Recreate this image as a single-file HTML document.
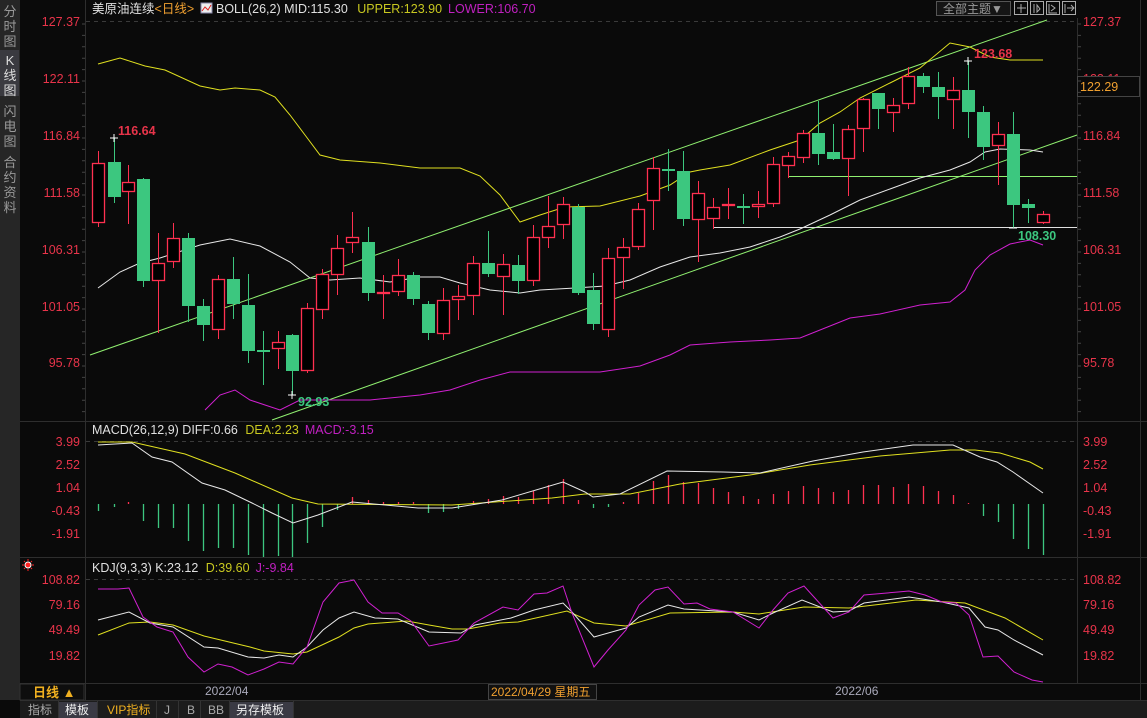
<!DOCTYPE html>
<html><head><meta charset="utf-8"><style>
html,body{margin:0;padding:0;background:#0a0a0a;width:1147px;height:718px;overflow:hidden}
svg{display:block}
text{font-family:"Liberation Sans","Noto Sans CJK SC",sans-serif}
</style></head><body>
<svg id="s" width="1147" height="718" xmlns="http://www.w3.org/2000/svg">
<rect width="1147" height="718" fill="#0a0a0a"/>
<rect x="0" y="0" width="20" height="700" fill="#262626"/>
<rect x="0" y="50" width="19" height="46" fill="#3a3a40"/>
<g font-size="13" fill="#9a9a9a" text-anchor="middle">
<text x="10" y="16">分</text><text x="10" y="31">时</text><text x="10" y="46">图</text>
<text x="10" y="65" fill="#ddd">K</text><text x="10" y="80" fill="#ddd">线</text><text x="10" y="95" fill="#ddd">图</text>
<text x="10" y="116">闪</text><text x="10" y="131">电</text><text x="10" y="146">图</text>
<text x="10" y="167">合</text><text x="10" y="182">约</text><text x="10" y="197">资</text><text x="10" y="212">料</text>
</g>
<g stroke="#2e2e2e" stroke-width="1">
<line x1="85.5" y1="0" x2="85.5" y2="700"/>
<line x1="1077.5" y1="18" x2="1077.5" y2="683"/>
<line x1="20" y1="421.5" x2="1147" y2="421.5"/>
<line x1="20" y1="557.5" x2="1147" y2="557.5"/>
<line x1="20" y1="683.5" x2="1147" y2="683.5"/>
<line x1="20" y1="700.5" x2="1147" y2="700.5"/>
<line x1="1140.5" y1="0" x2="1140.5" y2="700"/>
</g>
<g stroke="#3a3a3a" stroke-dasharray="4,4">
<line x1="86" y1="21.5" x2="1077" y2="21.5"/>
<line x1="86" y1="441.5" x2="1077" y2="441.5"/>
<line x1="86" y1="579.5" x2="1077" y2="579.5"/>
</g>
<text x="92" y="13" font-size="12.5" fill="#e0e0e0">美原油连续<tspan fill="#f0a030">&lt;日线&gt;</tspan></text>
<rect x="201" y="3" width="11" height="10" fill="#eee" stroke="#88a" stroke-width="1"/>
<polyline points="202,11 205,7 208,10 211,5" fill="none" stroke="#d22" stroke-width="1"/>
<text x="216" y="13" font-size="12.5" fill="#e0e0e0">BOLL(26,2) MID:115.30 <tspan fill="#c8c820" dx="6">UPPER:123.90</tspan><tspan fill="#c020c0" dx="6">LOWER:106.70</tspan></text>
<rect x="936.5" y="1.5" width="74" height="14" fill="#151515" stroke="#555"/>
<text x="943" y="13" font-size="12" fill="#999">全部主题▼</text>
<g fill="none" stroke="#aaa">
<rect x="1014.5" y="1.5" width="13" height="13"/><rect x="1030.5" y="1.5" width="13" height="13"/><rect x="1046.5" y="1.5" width="13" height="13"/><rect x="1062.5" y="1.5" width="13" height="13"/>
<path d="M1021 4v9M1017 8h9M1034 4v9M1037 5v7l3-3zM1049 4v9h8M1051 5l4 3-4 3M1065 4v9M1067 8h7M1071 5l3 3-3 3"/>
</g>
<g font-size="12.5" fill="#e8344a">
<g text-anchor="end">
<text x="80" y="26">127.37</text><text x="80" y="83">122.11</text><text x="80" y="140">116.84</text><text x="80" y="197">111.58</text><text x="80" y="254">106.31</text><text x="80" y="311">101.05</text><text x="80" y="367">95.78</text>
<text x="80" y="446">3.99</text><text x="80" y="469">2.52</text><text x="80" y="492">1.04</text><text x="80" y="515">-0.43</text><text x="80" y="538">-1.91</text>
<text x="80" y="584">108.82</text><text x="80" y="609">79.16</text><text x="80" y="634">49.49</text><text x="80" y="660">19.82</text>
</g>
<text x="1083" y="26">127.37</text><text x="1083" y="83">122.11</text><text x="1083" y="140">116.84</text><text x="1083" y="197">111.58</text><text x="1083" y="254">106.31</text><text x="1083" y="311">101.05</text><text x="1083" y="367">95.78</text>
<text x="1083" y="446">3.99</text><text x="1083" y="469">2.52</text><text x="1083" y="492">1.04</text><text x="1083" y="515">-0.43</text><text x="1083" y="538">-1.91</text>
<text x="1083" y="584">108.82</text><text x="1083" y="609">79.16</text><text x="1083" y="634">49.49</text><text x="1083" y="660">19.82</text>
</g>
<rect x="1077.5" y="76.5" width="62" height="20" fill="#0a0a0a" stroke="#444"/>
<text x="1080" y="91" font-size="12.5" fill="#f0a030">122.29</text>
<g id="ticks" stroke="#444"></g>
<g id="main"></g>
<text x="92" y="434" font-size="12.5" fill="#e0e0e0">MACD(26,12,9) DIFF:0.66 <tspan fill="#c8c820" dx="4">DEA:2.23</tspan><tspan fill="#c020c0" dx="6">MACD:-3.15</tspan></text>
<text x="92" y="572" font-size="12.5" fill="#e0e0e0">KDJ(9,3,3) K:23.12 <tspan fill="#c8c820" dx="4">D:39.60</tspan><tspan fill="#c020c0" dx="6">J:-9.84</tspan></text>
<circle cx="28" cy="565" r="3" fill="#f22" stroke="#fff" stroke-width="1"/>
<g stroke="#f22" stroke-width="1"><path d="M22 565h2M32 565h2M28 559v2M28 569v2M24 561l1 1M32 569l-1-1M32 561l-1 1M24 569l1-1"/></g>
<g font-size="12.5" font-weight="bold">
<text x="118" y="135" fill="#e8344a">116.64</text>
<text x="298" y="406" fill="#3cc77f">92.93</text>
<text x="974" y="58" fill="#e8344a">123.68</text>
<text x="1018" y="240" fill="#3cc77f">108.30</text>
</g>
<rect x="20" y="684" width="64" height="16" fill="#0e0e0e" stroke="#333"/>
<text x="33" y="697" font-size="13" fill="#f0b020" font-weight="bold">日线 ▲</text>
<text x="205" y="695" font-size="12" fill="#aab">2022/04</text>
<rect x="488.5" y="684.5" width="108" height="15" fill="#111" stroke="#444"/>
<text x="491" y="696" font-size="12" fill="#f0a030">2022/04/29 星期五</text>
<text x="835" y="695" font-size="12" fill="#aab">2022/06</text>
<rect x="20" y="701" width="1127" height="17" fill="#1c1c1c"/>
<rect x="59" y="702" width="38" height="16" fill="#3a3a44"/>
<rect x="230" y="702" width="63" height="16" fill="#3a3a44"/>
<g font-size="12" fill="#aaa">
<text x="28" y="714">指标</text><text x="65" y="714" fill="#eee">模板</text><text x="107" y="714" fill="#f0b020">VIP指标</text>
<text x="164" y="714">J</text><text x="187" y="714">B</text><text x="208" y="714">BB</text><text x="236" y="714" fill="#eee">另存模板</text>
</g>
<g stroke="#333"><path d="M58.5 701v17M97.5 701v17M156.5 701v17M178.5 701v17M200.5 701v17M229.5 701v17M293.5 701v17"/></g>
</svg>
<script>
var NS="http://www.w3.org/2000/svg",g=document.getElementById("main");
function el(t,a){var e=document.createElementNS(NS,t);for(var k in a)e.setAttribute(k,a[k]);g.appendChild(e);return e}
function pl(p,c){el("polyline",{points:p,fill:"none",stroke:c,"stroke-width":1})}
var R="#ff3050",G="#3cc77f";
var C=[[98,R,163,222,151,227],[114,G,162,197,138,203],[128,R,182,191,165,224],[143,G,179,281,178,287],[158,R,263,280,233,333],[173,R,238,261,223,268],[188,G,238,306,233,322],[203,G,306,325,299,341],[218,R,279,329,275,339],[233,G,279,304,257,319],[248,G,305,351,274,363],[263,G,350,352,331,385],[278,R,342,348,331,369],[292,G,335,371,334,395],[307,R,308,370,303,373],[322,R,274,309,269,319],[337,R,248,274,235,295],[352,R,237,242,212,253],[368,G,242,293,227,301],[383,R,292,293,275,319],[398,R,275,291,259,296],[413,G,275,299,272,305],[428,G,304,333,301,340],[443,R,300,333,288,340],[458,R,296,299,285,320],[473,R,263,295,256,315],[488,G,263,274,231,277],[503,R,264,276,254,315],[518,G,265,281,255,294],[533,R,237,280,225,286],[548,R,226,237,196,248],[563,R,204,224,197,239],[578,G,207,293,204,295],[593,G,290,324,273,330],[608,R,258,329,248,337],[623,R,247,257,238,289],[638,R,209,246,203,250],[653,R,168,200,157,230],[668,G,169,171,149,191],[683,G,171,219,151,226],[698,R,193,219,181,262],[713,R,207,218,198,229],[728,R,204,205,188,219],[743,G,206,208,194,224],[758,R,204,206,191,218],[773,R,164,203,157,207],[788,R,156,165,152,178],[803,R,133,157,130,163],[818,G,133,154,101,165],[833,G,152,159,124,160],[848,R,129,158,125,196],[863,R,99,128,98,152],[878,G,93,109,93,129],[893,R,105,112,98,132],[908,R,76,103,67,109],[923,G,76,87,73,93],[938,G,87,97,72,119],[953,R,90,99,77,129],[968,G,90,112,61,138],[983,G,112,147,106,160],[998,R,134,145,122,185],[1013,G,134,205,112,228],[1028,G,204,208,199,223],[1043,R,214,222,211,224]];
el("line",{x1:90,y1:355,x2:1047,y2:20,stroke:"#90f070","stroke-width":1});
el("line",{x1:272,y1:420,x2:1077,y2:135,stroke:"#90f070","stroke-width":1});
el("line",{x1:788,y1:176.5,x2:1077,y2:176.5,stroke:"#90f070","stroke-width":1});
el("line",{x1:713,y1:227.5,x2:1077,y2:227.5,stroke:"#e0e0e0","stroke-width":1});
pl("98,64 120,58 145,66 165,70 200,86 220,90 235,88 260,90 275,97 290,115 305,135 320,155 340,160 380,163 420,168 460,168 480,176 500,195 520,222 540,215 565,207 600,206 640,196 670,185 690,172 700,170 730,165 770,150 800,140 820,123 840,112 860,98 890,83 920,68 950,43 970,47 990,57 1010,60 1043,60","#e0e020");
pl("98,288 120,272 140,263 160,258 200,245 230,239 260,246 290,262 310,278 330,280 360,278 390,282 420,277 440,277 460,283 490,290 520,293 540,290 575,288 605,286 630,280 660,267 690,257 720,253 750,247 780,237 800,229 830,215 860,200 890,189 920,178 950,170 970,162 985,152 1000,149 1030,150 1043,152","#e8e8e8");
pl("205,410 220,395 235,390 250,400 265,405 280,410 300,400 330,400 370,400 420,395 450,390 480,380 510,372 540,372 570,372 600,372 640,366 670,355 690,345 730,342 770,340 800,338 820,330 850,318 880,314 920,305 950,302 965,290 975,270 990,255 1010,244 1030,240 1043,245","#d020d0");
C.forEach(function(c){var x=c[0];
 el("line",{x1:x+.5,y1:c[4],x2:x+.5,y2:c[5],stroke:c[1],"stroke-width":1});
 var h=Math.max(1,c[3]-c[2]);
 if(c[1]==R)el("rect",{x:x-5.5,y:c[2]+.5,width:12,height:h,fill:"#000",stroke:R,"stroke-width":1.3});
 else el("rect",{x:x-6,y:c[2],width:13,height:Math.max(2,h),fill:G});
});
el("path",{d:"M110 138h8M114 134v8M288 395h8M292 391v8M964 61h8M968 57v8M1009 228h8",stroke:"#fff","stroke-width":1});
var M=[511,507,502,521,528,528,541,551,548,548,555,557,556,557,543,527,510,497,500,502,502,502,513,512,509,501,499,496,497,491,485,479,500,508,507,502,493,481,475,482,483,488,492,496,499,494,491,486,488,492,490,485,485,487,484,486,491,495,503,516,522,539,549,555];
M.forEach(function(v,i){var x=C[i]?C[i][0]:98+i*15;
 el("line",{x1:x+.5,y1:504,x2:x+.5,y2:v,stroke:v>504?G:R,"stroke-width":1.3});});
pl("98,442 132,442 185,454 235,473 292,498 318,504 452,505 552,498 585,494 630,494 680,484 750,475 810,465 880,456 950,450 975,450 1000,453 1030,462 1043,469","#e0e020");
pl("98,445 132,443 152,457 172,462 202,483 225,490 252,503 272,513 293,523 318,515 352,502 418,508 452,508 502,500 563,482 585,492 593,497 620,494 667,471 723,472 760,473 813,461 863,452 913,445 953,445 980,457 997,462 1013,472 1043,493","#e8e8e8");
pl("98,635 129,623 150,622 173,625 204,636 250,647 264,651 293,654 307,652 339,637 354,628 368,624 407,621 429,625 452,629 468,629 500,623 518,622 567,611 594,623 626,626 670,613 733,612 759,614 804,607 849,608 916,600 965,603 1005,618 1043,640","#e0e020");
pl("98,620 129,612 150,623 173,627 204,647 218,648 248,657 264,658 279,655 293,657 307,647 323,630 339,618 354,612 375,618 398,619 429,632 461,633 475,625 511,618 534,610 563,603 572,612 594,637 626,628 639,617 668,605 684,609 733,612 759,620 773,613 802,600 833,612 849,611 864,603 909,597 942,602 969,608 985,627 998,630 1014,640 1043,655","#e8e8e8");
pl("98,589 118,589 129,588 143,617 157,627 173,632 188,657 204,672 218,664 232,667 248,675 264,669 279,662 293,664 307,647 323,602 339,583 354,580 368,602 382,613 398,613 411,621 429,646 458,640 474,623 503,607 518,610 534,594 547,593 563,586 572,613 594,667 608,650 626,630 639,605 655,590 668,587 684,604 697,603 710,609 733,612 759,628 773,610 788,593 804,586 833,618 849,612 864,595 898,592 909,591 925,595 942,602 956,603 969,615 983,657 998,656 1014,672 1032,680 1043,682","#d020d0");
var t=document.getElementById("ticks"),d="";
for(var y=24;y<420;y+=11.4)d+="M82 "+y.toFixed(1)+"h3M1078 "+y.toFixed(1)+"h3";
var p=document.createElementNS(NS,"path");p.setAttribute("d",d);t.appendChild(p);
</script>
</body></html>
